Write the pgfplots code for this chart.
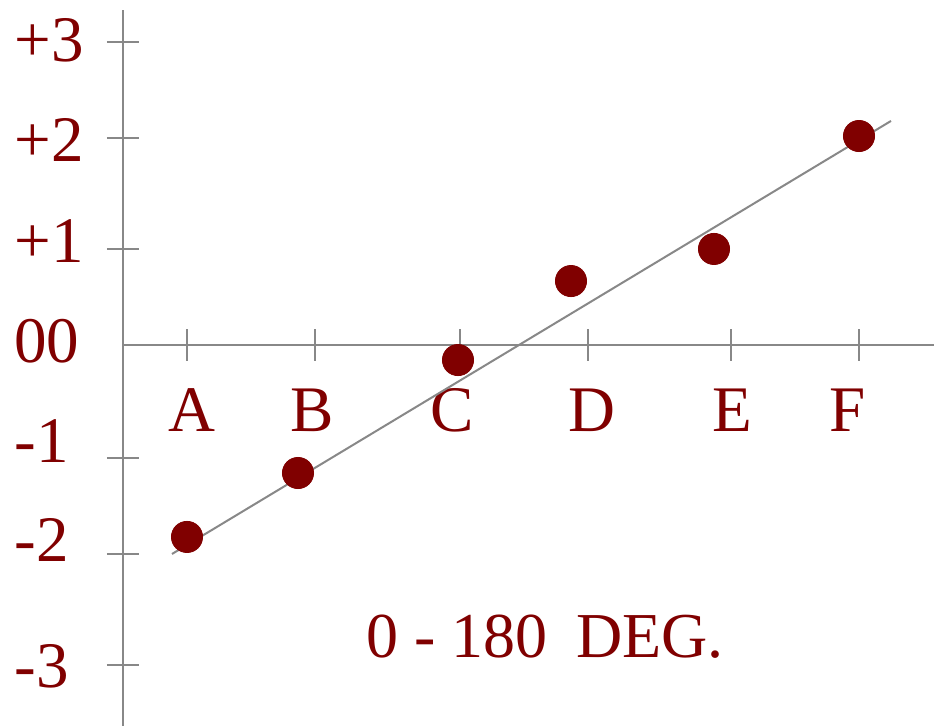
\documentclass[border=0pt]{standalone}
\usepackage{fontspec}
\setmainfont{Liberation Serif}
\usepackage{pgfplots}
\pgfplotsset{compat=1.18}
\definecolor{maroon}{HTML}{800000}
\definecolor{axgray}{HTML}{888888}
\begin{document}
\begin{tikzpicture}
\begin{axis}[
  at={(61.5pt,0pt)}, anchor=south west,
  scale only axis, width=405.5pt, height=358pt,
  xmin=0, xmax=8.11, ymin=-3.646, ymax=3.206,
  axis lines=middle,
  axis line style={-, axgray, line width=1.25pt},
  every tick/.style={axgray, line width=1.25pt},
  major tick length=16pt,
  tick align=center,
  hide obscured x ticks=false, hide obscured y ticks=false,
  xtick={0.64,1.92,3.37,4.65,6.08,7.36},
  xticklabels={},
  extra x ticks={0.69,1.89,3.29,4.69,6.09,7.25},
  extra x tick labels={A,B,C,D,E,F},
  extra x tick style={tick style={draw=none}},
  ytick={2.900,1.981,0.919,-1.081,-2.000,-3.062},
  yticklabels={},
  extra y ticks={2.914,1.962,0.995,0.038,-0.919,-1.866,-3.072},
  extra y tick labels={+3,+2,+1,00,-1,-2,-3},
  extra y tick style={tick style={draw=none}},
  ticklabel style={text=maroon, font=\fontsize{32.5}{39}\selectfont, inner sep=0pt},
  xticklabel style={anchor=base, yshift=-35.5pt},
  yticklabel style={anchor=west, xshift=-46.5pt},
  clip=false,
]
\addplot[axgray, line width=1pt] coordinates {(0.49,-2.000) (7.68,2.144)};
\addplot[only marks, mark=*, mark size=7.8pt, mark options={fill=maroon, draw=maroon}] coordinates {(0.64,-1.837) (1.75,-1.225) (3.35,-0.144) (4.48,0.612) (5.91,0.919) (7.36,2.000)};
\node[anchor=base, text=maroon, font=\fontsize{32}{38}\selectfont, inner sep=0pt] at (axis cs:4.22,-2.995) {0 - 180\hspace{0.45em}DEG.};
\end{axis}
\pgfresetboundingbox
\path[use as bounding box] (0,0) rectangle (467pt,363pt);
\end{tikzpicture}
\end{document}
